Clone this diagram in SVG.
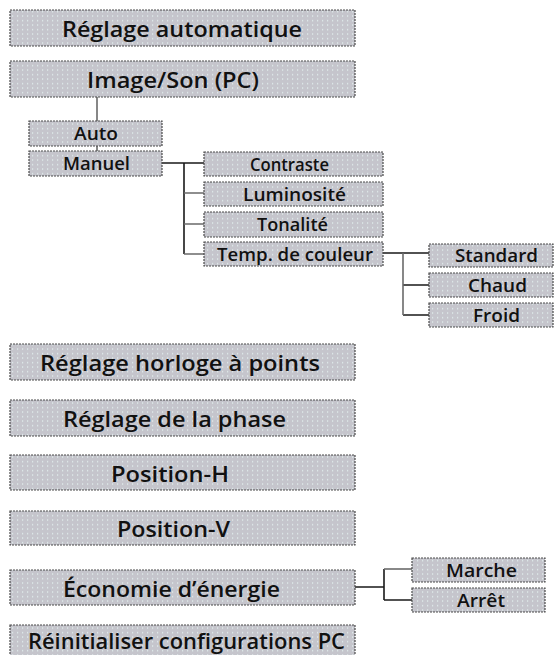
<svg xmlns="http://www.w3.org/2000/svg" width="559" height="655" viewBox="0 0 559 655">
<defs>
<pattern id="dots" x="0" y="0" width="5" height="4.5" patternUnits="userSpaceOnUse">
<rect width="5" height="4.5" fill="#c5c5cc"/>
<rect x="2" y="2" width="1.2" height="1.2" fill="#e6f4f2"/>
</pattern>
</defs>
<style>
.box{fill:url(#dots);stroke:#4a4a4a;stroke-width:1.2;stroke-dasharray:2 1}
.big{font-family:"Open Sans","Noto Sans","Liberation Sans",sans-serif;font-weight:600;font-size:22px;fill:#111}
.sm{font-family:"Open Sans","Noto Sans","Liberation Sans",sans-serif;font-weight:600;font-size:17.5px;fill:#111}
.ln{fill:none;stroke:#1a1a1a;stroke-width:1.6}
.lg{fill:none;stroke:#6a6a6a;stroke-width:1.6}
</style>
<rect width="559" height="655" fill="#fff"/>
<g id="connectors">
<path class="lg" d="M97,97V121M97,146V151"/>
<path class="ln" d="M162,163H204M184,163V254"/>
<path class="lg" d="M184,193H204M184,224H204M184,254H204"/>
<path class="ln" d="M383,253H429M403,285H429M403,315H429"/>
<path class="lg" d="M403,253V315"/>
<path class="ln" d="M355,587H384M384,569V600M384,600H412"/>
<path class="lg" d="M384,569H412"/>
</g>
<g id="reglage-auto"><rect class="box" x="10" y="10" width="345" height="36"/><text class="big" x="62" y="37" textLength="240" lengthAdjust="spacingAndGlyphs">Réglage automatique</text></g>
<g id="image-son"><rect class="box" x="10" y="61" width="345" height="36"/><text class="big" x="87" y="88" textLength="172" lengthAdjust="spacingAndGlyphs">Image/Son (PC)</text></g>
<g id="auto"><rect class="box" x="29" y="121" width="133" height="25"/><text class="sm" x="74" y="140" textLength="44" lengthAdjust="spacingAndGlyphs">Auto</text></g>
<g id="manuel"><rect class="box" x="29" y="151" width="133" height="25"/><text class="sm" x="63" y="170" textLength="67" lengthAdjust="spacingAndGlyphs">Manuel</text></g>
<g id="contraste"><rect class="box" x="204" y="152" width="179" height="24"/><text class="sm" x="250" y="171" textLength="79" lengthAdjust="spacingAndGlyphs">Contraste</text></g>
<g id="luminosite"><rect class="box" x="204" y="182" width="179" height="24"/><text class="sm" x="243" y="201" textLength="103" lengthAdjust="spacingAndGlyphs">Luminosité</text></g>
<g id="tonalite"><rect class="box" x="204" y="212" width="179" height="25"/><text class="sm" x="257" y="231" textLength="71" lengthAdjust="spacingAndGlyphs">Tonalité</text></g>
<g id="temp"><rect class="box" x="204" y="242" width="179" height="24"/><text class="sm" x="217" y="261" textLength="156" lengthAdjust="spacingAndGlyphs">Temp. de couleur</text></g>
<g id="standard"><rect class="box" x="429" y="244" width="124" height="23"/><text class="sm" x="455" y="262" textLength="83" lengthAdjust="spacingAndGlyphs">Standard</text></g>
<g id="chaud"><rect class="box" x="429" y="273" width="124" height="24"/><text class="sm" x="468" y="292" textLength="59" lengthAdjust="spacingAndGlyphs">Chaud</text></g>
<g id="froid"><rect class="box" x="429" y="303" width="124" height="24"/><text class="sm" x="473" y="322" textLength="47" lengthAdjust="spacingAndGlyphs">Froid</text></g>
<g id="horloge"><rect class="box" x="10" y="344" width="345" height="36"/><text class="big" x="40" y="371" textLength="280" lengthAdjust="spacingAndGlyphs">Réglage horloge à points</text></g>
<g id="phase"><rect class="box" x="10" y="400" width="345" height="36"/><text class="big" x="63" y="427" textLength="223" lengthAdjust="spacingAndGlyphs">Réglage de la phase</text></g>
<g id="position-h"><rect class="box" x="10" y="455" width="345" height="35"/><text class="big" x="111" y="482" textLength="118" lengthAdjust="spacingAndGlyphs">Position-H</text></g>
<g id="position-v"><rect class="box" x="10" y="511" width="345" height="34"/><text class="big" x="117" y="537" textLength="113" lengthAdjust="spacingAndGlyphs">Position-V</text></g>
<g id="economie"><rect class="box" x="10" y="570" width="345" height="35"/><text class="big" x="63" y="597" textLength="217" lengthAdjust="spacingAndGlyphs">Économie d’énergie</text></g>
<g id="marche"><rect class="box" x="412" y="558" width="133" height="24"/><text class="sm" x="446" y="577" textLength="71" lengthAdjust="spacingAndGlyphs">Marche</text></g>
<g id="arret"><rect class="box" x="412" y="588" width="133" height="24"/><text class="sm" x="457" y="607" textLength="48" lengthAdjust="spacingAndGlyphs">Arrêt</text></g>
<g id="reinit"><rect class="box" x="10" y="625" width="345" height="40"/><text class="big" x="28" y="649" textLength="317" lengthAdjust="spacingAndGlyphs">Réinitialiser configurations PC</text></g>
</svg>
